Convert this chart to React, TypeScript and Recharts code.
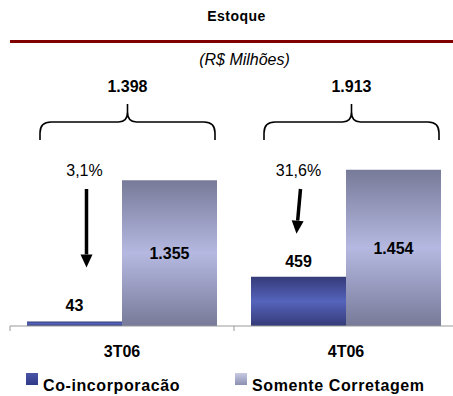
import React from 'react';
import { BarChart, Bar, XAxis, YAxis, LabelList } from 'recharts';

const categories = ['3T06', '4T06'];
const coIncorporacao = [43, 459];
const somenteCorretagem = [1355, 1454];
const totals = [1398, 1913];
const shares = ['3,1%', '31,6%'];

const data = categories.map((category, i) => ({
  category,
  co: coIncorporacao[i],
  somente: somenteCorretagem[i],
  total: totals[i],
  share: shares[i],
}));

// hand placement of the % arrows, per category
const arrowDx = [10, 0];
const arrowSlant = [0, -4];
const arrowGap = [54, 43];

const FONT = '"Liberation Sans", Arial, sans-serif';

const fmt = (v: number) => String(v).replace(/\B(?=(\d{3})+(?!\d))/g, '.');

const CategoryTick = (props: any) => {
  const { x, payload } = props;
  const half = payload && payload.offset ? payload.offset : 112;
  return (
    <g>
      <line x1={x - half} x2={x - half} y1={326} y2={331} stroke="#999" />
      <text x={x} y={357} textAnchor="middle" fontFamily={FONT} fontSize={16} fontWeight="bold" fill="#000">
        {payload.value}
      </text>
    </g>
  );
};

const Brace = (props: any) => {
  const { x, width, value } = props;
  const L = x - width + 13;
  const R = x + width - 2;
  const C = (L + R) / 2;
  const d = `M${L},140 L${L},133 Q${L},122 ${L + 11},122 L${C - 9},122 Q${C},122 ${C},112 L${C},104 M${C},112 Q${C},122 ${C + 9},122 L${R - 11},122 Q${R},122 ${R},133 L${R},140`;
  return (
    <g>
      <path d={d} fill="none" stroke="#000" strokeWidth={1.6} />
      <text x={C} y={92} textAnchor="middle" fontFamily={FONT} fontSize={16} fontWeight="bold" fill="#000">
        {fmt(value)}
      </text>
    </g>
  );
};

const ShareArrow = (props: any) => {
  const { x, y, width, index, value } = props;
  const tx = x + width / 2 + arrowDx[index];
  const ax = tx + 2;
  const bx = ax + arrowSlant[index];
  const tip = y - arrowGap[index];
  const headLen = 13;
  const dx = bx - ax;
  const dy = tip - 189;
  const len = Math.sqrt(dx * dx + dy * dy);
  const ux = dx / len;
  const uy = dy / len;
  const baseX = bx - ux * headLen;
  const baseY = tip - uy * headLen;
  const px = -uy * 6;
  const py = ux * 6;
  return (
    <g>
      <text x={tx} y={176} textAnchor="middle" fontFamily={FONT} fontSize={16} fill="#000">
        {value}
      </text>
      <line x1={ax} y1={189} x2={baseX} y2={baseY} stroke="#000" strokeWidth={3.5} />
      <polygon points={`${bx},${tip} ${baseX + px},${baseY + py} ${baseX - px},${baseY - py}`} fill="#000" />
    </g>
  );
};

const LegendItem = ({ label, from, to, left }: { label: string; from: string; to: string; left: number }) => (
  <div style={{ position: 'absolute', left, top: 373, display: 'flex', alignItems: 'flex-start' }}>
    <div style={{ width: 12, height: 12, background: `linear-gradient(${from}, ${to})` }} />
    <div style={{ marginLeft: 5, marginTop: 5, fontFamily: FONT, fontSize: 16, fontWeight: 'bold', letterSpacing: 0.6, lineHeight: '16px', whiteSpace: 'nowrap' }}>
      {label}
    </div>
  </div>
);

export default function App() {
  return (
    <div style={{ position: 'absolute', left: 0, top: 0, width: 453, height: 396, overflow: 'hidden', background: '#fff' }}>
      <div style={{ position: 'absolute', left: 0, width: 453, top: 8, textAlign: 'center', paddingLeft: 20, boxSizing: 'border-box', fontFamily: FONT, fontSize: 14, fontWeight: 'bold', letterSpacing: 0.5 }}>
        Estoque
      </div>
      <div style={{ position: 'absolute', left: 10, top: 40, width: 443, height: 3, background: '#800000' }} />
      <div style={{ position: 'absolute', left: 0, width: 453, top: 51, textAlign: 'center', paddingLeft: 36, boxSizing: 'border-box', fontFamily: FONT, fontSize: 16, fontStyle: 'italic' }}>
        (R$ Milhões)
      </div>
      <BarChart
        width={461}
        height={396}
        data={data}
        margin={{ top: 111, right: 3, left: 10, bottom: 40 }}
        barCategoryGap={17}
        barGap={0}
        style={{ position: 'absolute', left: 0, top: 0 }}
      >
        <defs>
          <linearGradient id="gCo" x1="0" y1="0" x2="0" y2="1">
            <stop offset="0%" stopColor="#353B78" />
            <stop offset="50%" stopColor="#5564BC" />
            <stop offset="100%" stopColor="#353B78" />
          </linearGradient>
          <linearGradient id="gSo" x1="0" y1="0" x2="0" y2="1">
            <stop offset="0%" stopColor="#777A98" />
            <stop offset="50%" stopColor="#B5B9E1" />
            <stop offset="100%" stopColor="#777A98" />
          </linearGradient>
        </defs>
        <XAxis dataKey="category" height={30} axisLine={{ stroke: '#999' }} tickLine={false} tick={<CategoryTick />} interval={0} />
        <YAxis hide domain={[0, 2000]} />
        <Bar dataKey="co" fill="url(#gCo)" isAnimationActive={false}>
          <LabelList dataKey="co" position="top" offset={10} formatter={(v: any) => fmt(Number(v))} style={{ fontFamily: FONT, fontSize: 16, fontWeight: 'bold', fill: '#000' }} />
          <LabelList dataKey="share" content={<ShareArrow />} />
        </Bar>
        <Bar dataKey="somente" fill="url(#gSo)" isAnimationActive={false}>
          <LabelList dataKey="somente" position="center" formatter={(v: any) => fmt(Number(v))} style={{ fontFamily: FONT, fontSize: 16, fontWeight: 'bold', fill: '#000' }} />
          <LabelList dataKey="total" content={<Brace />} />
        </Bar>
      </BarChart>
      <LegendItem label="Co-incorporacão" from="#4A55A8" to="#2F3A88" left={26} />
      <LegendItem label="Somente Corretagem" from="#C8CAE4" to="#8C90B0" left={235} />
    </div>
  );
}
